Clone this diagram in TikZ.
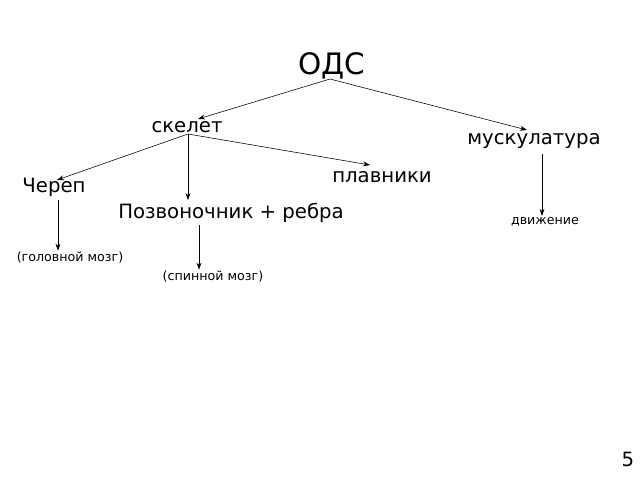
\documentclass[tikz,border=0pt]{standalone}
\usepackage{fontspec}
\setmainfont{DejaVu Sans}
\usetikzlibrary{arrows.meta}
\tikzset{
  big/.style={font=\fontsize{14}{16}\selectfont,inner sep=1pt},
  small/.style={font=\fontsize{9}{11}\selectfont,inner sep=1pt},
  arr/.style={-{Stealth[length=5pt,width=3.5pt]},thin}
}
\begin{document}
\begin{tikzpicture}[x=0.025cm,y=-0.025cm]
	   \useasboundingbox (0,0) rectangle (640,480);
	   \node [inner sep=1pt,font=\fontsize{21}{24}\selectfont] (ods) at (332,66) {ОДС};
	   \node [big] (skelet) at (187,127) {скелет};
	   \node [big] (musk) at (534,141) {мускулатура};
	   \node [big] (plav) at (382,177) {плавники};
	   \node [big] (cherep) at (54,187) {Череп};
	   \node [big] (pozv) at (231,213) {Позвоночник + ребра};
	   \node [small] (dvizh) at (545,222) {движение};
	   \node [small] (golov) at (70,258) {(головной мозг)};
	   \node [small] (spin) at (213,277) {(спинной мозг)};
	   \node [big] (num) at (628,459) {5};
	   \coordinate (odsb) at (330,79);
	   \coordinate (skb) at (188,134);
	   \draw[arr] (odsb) -- (198,119);
	   \draw[arr] (odsb) -- (527,130);
	   \draw[arr] (skb) -- (57,180);
	   \draw[arr] (skb) -- (188,200);
	   \draw[arr] (skb) -- (370,165);
	   \draw[arr] (58,200) -- (golov.north -| 58,0);
	   \draw[arr] (199,225) -- (spin.north -| 199,0);
	   \draw[arr] (542,154) -- (dvizh.north -| 542,0);
\end{tikzpicture}
\end{document}
